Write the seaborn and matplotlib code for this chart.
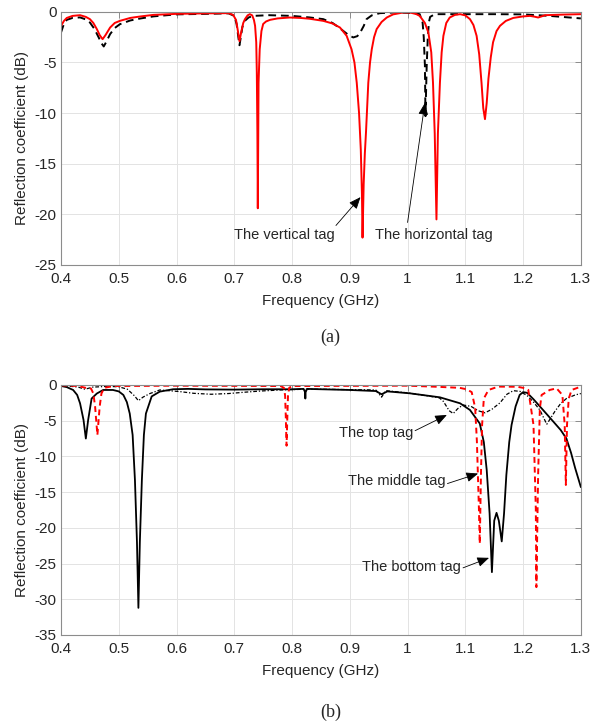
import matplotlib
matplotlib.use("Agg")
import matplotlib.pyplot as plt
import seaborn as sns
import pandas as pd

# ---------------- data: panel (a) ----------------
a_red_f = [0.400, 0.405, 0.410, 0.420, 0.433, 0.443, 0.450, 0.456, 0.462, 0.467, 0.472,
           0.477, 0.485, 0.493, 0.502, 0.520, 0.537, 0.560, 0.600, 0.650, 0.690, 0.698,
           0.703, 0.706, 0.709, 0.712, 0.7155, 0.7185, 0.723, 0.727, 0.731, 0.734, 0.736,
           0.738, 0.739, 0.740, 0.7407, 0.7415, 0.742, 0.744, 0.747, 0.750, 0.755, 0.762,
           0.775, 0.796, 0.814, 0.830, 0.854, 0.870, 0.883, 0.8945, 0.903, 0.908, 0.912,
           0.916, 0.919, 0.921, 0.922, 0.924, 0.926, 0.928, 0.932, 0.935, 0.938, 0.942,
           0.9465, 0.955, 0.964, 0.975, 0.993, 1.005, 1.015, 1.021, 1.030, 1.036, 1.041,
           1.044, 1.047, 1.050, 1.0525, 1.056, 1.059, 1.062, 1.067, 1.073, 1.082, 1.091,
           1.100, 1.108, 1.114, 1.1195, 1.124, 1.128, 1.131, 1.134, 1.137, 1.140, 1.144,
           1.148, 1.154, 1.160, 1.170, 1.183, 1.200, 1.212, 1.220, 1.226, 1.232, 1.238,
           1.270, 1.300]
a_red_v = [-1.4, -0.9, -0.6, -0.4, -0.33, -0.5, -0.72, -1.1, -1.7, -2.3, -2.7,
           -2.3, -1.55, -1.1, -0.89, -0.6, -0.46, -0.3, -0.2, -0.15, -0.13, -0.3,
           -0.8, -1.8, -2.9, -2.0, -1.1, -0.72, -0.35, -0.23, -0.35, -0.8, -1.38,
           -3.0, -6.0, -12.0, -19.4, -12.0, -7.0, -3.7, -1.9, -1.2, -0.95, -0.79,
           -0.65, -0.56, -0.6, -0.68, -0.89, -1.15, -1.55, -2.37, -3.7, -5.0, -7.0,
           -10.0, -13.6, -18.0, -22.3, -17.0, -14.0, -11.9, -7.0, -5.0, -3.7, -2.5,
           -1.7, -1.0, -0.56, -0.25, -0.06, -0.08, -0.22, -0.4, -1.1, -2.04, -4.0,
           -7.0, -12.0, -20.5, -12.0, -7.0, -4.0, -2.37, -1.1, -0.56, -0.3, -0.23,
           -0.35, -0.72, -1.3, -2.37, -4.2, -7.0, -9.5, -10.6, -9.0, -6.6, -4.5,
           -3.0, -1.9, -1.38, -0.9, -0.6, -0.45, -0.4, -0.48, -0.56, -0.45, -0.33,
           -0.27, -0.23]

a_blk_f = [0.400, 0.405, 0.410, 0.420, 0.433, 0.443, 0.450, 0.458, 0.465, 0.470, 0.474,
           0.479, 0.485, 0.493, 0.502, 0.520, 0.537, 0.560, 0.600, 0.650, 0.690, 0.700,
           0.704, 0.707, 0.709, 0.711, 0.714, 0.718, 0.725, 0.733, 0.760, 0.800, 0.830,
           0.854, 0.870, 0.880, 0.889, 0.898, 0.906, 0.913, 0.918, 0.924, 0.929, 0.938,
           0.952, 0.980, 1.010, 1.021, 1.026, 1.028, 1.030, 1.031, 1.033, 1.035, 1.037,
           1.039, 1.045, 1.050, 1.150, 1.200, 1.246, 1.300]
a_blk_v = [-2.04, -1.2, -0.79, -0.6, -0.55, -0.75, -1.05, -1.7, -2.5, -3.1, -3.42,
           -2.9, -2.2, -1.6, -1.22, -0.85, -0.66, -0.45, -0.25, -0.2, -0.15, -0.4,
           -1.2, -2.5, -3.3, -2.6, -1.5, -0.9, -0.55, -0.4, -0.33, -0.4, -0.55,
           -0.72, -1.1, -1.5, -1.9, -2.3, -2.53, -2.4, -2.04, -1.4, -0.72, -0.35,
           -0.13, -0.06, -0.12, -0.23, -1.05, -2.5, -5.3, -10.3, -5.5, -2.5, -1.0,
           -0.5, -0.3, -0.23, -0.23, -0.25, -0.4, -0.65]

# ---------------- data: panel (b) ----------------
b_solid_f = [0.400, 0.410, 0.421, 0.428, 0.433, 0.439, 0.443, 0.447, 0.453, 0.462, 0.473,
             0.490, 0.500, 0.508, 0.514, 0.519, 0.524, 0.528, 0.5315, 0.534, 0.5365, 0.540,
             0.5435, 0.547, 0.557, 0.571, 0.594, 0.620, 0.650, 0.700, 0.750, 0.800, 0.820,
             0.8225, 0.823, 0.8235, 0.826, 0.850, 0.900, 0.945, 0.955, 0.965, 1.004, 1.056,
             1.091, 1.108, 1.125, 1.132, 1.137, 1.142, 1.146, 1.150, 1.154, 1.158, 1.163,
             1.167, 1.171, 1.176, 1.180, 1.187, 1.194, 1.200, 1.207, 1.218, 1.229, 1.240,
             1.252, 1.265, 1.275, 1.283, 1.290, 1.300]
b_solid_v = [-0.14, -0.3, -0.7, -1.4, -2.57, -4.9, -7.5, -4.9, -1.9, -1.2, -0.7,
             -0.7, -0.9, -1.4, -2.4, -4.0, -7.0, -13.3, -22.0, -31.2, -22.0, -13.3,
             -7.0, -4.0, -1.6, -0.93, -0.6, -0.55, -0.62, -0.65, -0.6, -0.6, -0.55,
             -1.0, -1.9, -1.0, -0.55, -0.6, -0.7, -0.85, -1.3, -0.9, -1.17, -1.73,
             -2.57, -3.5, -5.4, -8.0, -11.9, -18.0, -26.2, -19.0, -17.9, -19.0, -21.9,
             -18.0, -12.6, -8.0, -5.6, -3.0, -1.4, -1.0, -1.1, -2.0, -3.0, -4.0,
             -5.1, -6.3, -7.5, -9.5, -11.6, -14.3]

b_red_f = [0.400, 0.430, 0.445, 0.452, 0.456, 0.459, 0.461, 0.463, 0.465, 0.467, 0.470,
           0.475, 0.490, 0.600, 0.780, 0.786, 0.788, 0.789, 0.7905, 0.792, 0.793, 0.795,
           0.800, 1.000, 1.050, 1.090, 1.102, 1.111, 1.117, 1.120, 1.1235, 1.125, 1.127,
           1.129, 1.132, 1.140, 1.157, 1.190, 1.200, 1.209, 1.218, 1.222, 1.223, 1.226,
           1.229, 1.232, 1.246, 1.258, 1.268, 1.272, 1.274, 1.276, 1.279, 1.284, 1.300]
b_red_v = [-0.05, -0.15, -0.45, -0.5, -1.2, -3.0, -5.0, -7.0, -5.0, -3.0, -1.2,
           -0.4, -0.15, -0.1, -0.15, -0.4, -1.5, -4.0, -8.5, -4.0, -1.5, -0.4,
           -0.15, -0.1, -0.25, -0.4, -0.6, -1.0, -3.2, -7.9, -17.3, -22.2, -12.6,
           -5.6, -1.9, -0.7, -0.23, -0.25, -0.4, -0.7, -5.6, -17.3, -28.3, -12.6,
           -3.3, -1.4, -0.7, -0.47, -1.4, -5.6, -14.0, -5.6, -1.9, -0.7, -0.23]

b_dd_f = [0.400, 0.430, 0.4415, 0.455, 0.480, 0.500, 0.515, 0.527, 0.534, 0.542, 0.554,
          0.571, 0.606, 0.630, 0.660, 0.690, 0.720, 0.745, 0.780, 0.820, 0.850, 0.900,
          0.945, 0.955, 0.962, 1.000, 1.040, 1.055, 1.062, 1.072, 1.079, 1.087, 1.096,
          1.110, 1.122, 1.134, 1.146, 1.160, 1.172, 1.183, 1.195, 1.207, 1.217, 1.229,
          1.241, 1.255, 1.265, 1.275, 1.290, 1.300]
b_dd_v = [-0.05, -0.3, -0.6, -0.3, -0.2, -0.25, -0.6, -1.5, -2.2, -1.7, -1.2,
          -0.7, -0.93, -1.17, -1.3, -1.2, -1.0, -0.85, -0.7, -0.6, -0.6, -0.65,
          -0.7, -1.7, -0.8, -1.1, -1.6, -1.8, -2.3, -3.6, -4.0, -3.3, -2.8,
          -3.0, -3.6, -3.9, -3.4, -2.5, -1.3, -0.8, -0.9, -1.5, -2.3, -3.5,
          -5.5, -3.7, -2.6, -1.9, -1.4, -1.2]

x_ticks = [0.4, 0.5, 0.6, 0.7, 0.8, 0.9, 1.0, 1.1, 1.2, 1.3]
x_tick_labels = ["0.4", "0.5", "0.6", "0.7", "0.8", "0.9", "1", "1.1", "1.2", "1.3"]
a_y_ticks = [0, -5, -10, -15, -20, -25]
b_y_ticks = [0, -5, -10, -15, -20, -25, -30, -35]

# ---------------- style ----------------
sns.set_theme(style="white")
plt.rcParams['font.family'] = ['Liberation Sans', 'DejaVu Sans']
plt.rcParams['axes.unicode_minus'] = False

fig = plt.figure(figsize=(6.01, 7.22), dpi=100)
ax_a = fig.add_axes([0.1015, 0.633, 0.865, 0.3506])
ax_b = fig.add_axes([0.1015, 0.1205, 0.865, 0.3463])


def style_axes(ax, yticks, ylim):
    ax.set_xlim(0.4, 1.3)
    ax.set_ylim(*ylim)
    ax.set_xticks(x_ticks)
    ax.set_xticklabels(x_tick_labels)
    ax.set_yticks(yticks)
    ax.set_yticklabels([str(t) for t in yticks])
    ax.grid(True, color="#e3e3e3", linewidth=0.7)
    ax.set_axisbelow(True)
    for s in ax.spines.values():
        s.set_color("#8c8c8c")
        s.set_linewidth(0.8)
        s.set_visible(True)
    ax.tick_params(axis="both", direction="in", length=4, width=0.7, color="#8c8c8c",
                   labelsize=11, labelcolor="#262626", top=True, right=True,
                   labeltop=False, labelright=False)
    ax.tick_params(axis="x", pad=5.2)
    ax.tick_params(axis="y", pad=3)
    ax.set_xlabel("Frequency (GHz)", fontsize=11, color="#262626", labelpad=5.5)
    ax.set_ylabel("Reflection coefficient (dB)", fontsize=11, color="#262626")
    ax.yaxis.set_label_coords(-0.0615, 0.5)


# panel (a)
df_a_red = pd.DataFrame({"f": a_red_f, "v": a_red_v})
df_a_blk = pd.DataFrame({"f": a_blk_f, "v": a_blk_v})
sns.lineplot(data=df_a_blk, x="f", y="v", ax=ax_a, color="black", linewidth=1.4,
             linestyle=(0, (4, 2.5)), estimator=None, sort=False)
sns.lineplot(data=df_a_red, x="f", y="v", ax=ax_a, color="#ff0000", linewidth=1.4,
             estimator=None, sort=False)
style_axes(ax_a, a_y_ticks, (-25, 0))

arrow_kw = dict(arrowstyle="-|>,head_length=0.6,head_width=0.25", color="black",
                lw=0.6, shrinkA=0, shrinkB=0)
ax_a.text(0.6995, -22.0, "The vertical tag", fontsize=10.5, ha="left", va="center")
ax_a.annotate("", xy=(0.9185, -18.3), xytext=(0.876, -21.1), arrowprops=arrow_kw)
ax_a.text(0.9435, -22.0, "The horizontal tag", fontsize=10.5, ha="left", va="center")
ax_a.annotate("", xy=(1.030, -9.0), xytext=(1.000, -20.8), arrowprops=arrow_kw)

# panel (b)
df_b_solid = pd.DataFrame({"f": b_solid_f, "v": b_solid_v})
df_b_red = pd.DataFrame({"f": b_red_f, "v": b_red_v})
df_b_dd = pd.DataFrame({"f": b_dd_f, "v": b_dd_v})
sns.lineplot(data=df_b_dd, x="f", y="v", ax=ax_b, color="black", linewidth=0.9,
             linestyle=(0, (3, 1.5, 1, 1.5)), estimator=None, sort=False)
sns.lineplot(data=df_b_solid, x="f", y="v", ax=ax_b, color="black", linewidth=1.3,
             estimator=None, sort=False)
sns.lineplot(data=df_b_red, x="f", y="v", ax=ax_b, color="#ff0000", linewidth=1.4,
             linestyle=(0, (3, 2)), estimator=None, sort=False)
style_axes(ax_b, b_y_ticks, (-35, 0))

ax_b.text(0.882, -6.68, "The top tag", fontsize=10.5, ha="left", va="center")
ax_b.annotate("", xy=(1.068, -4.2), xytext=(1.013, -6.4), arrowprops=arrow_kw)
ax_b.text(0.897, -13.5, "The middle tag", fontsize=10.5, ha="left", va="center")
ax_b.annotate("", xy=(1.122, -12.4), xytext=(1.069, -13.8), arrowprops=arrow_kw)
ax_b.text(0.921, -25.5, "The bottom tag", fontsize=10.5, ha="left", va="center")
ax_b.annotate("", xy=(1.141, -24.2), xytext=(1.096, -25.6), arrowprops=arrow_kw)

fig.text(0.55, 1 - 337 / 722, "(a)", fontsize=13, family="Liberation Serif",
         ha="center", va="center")
fig.text(0.55, 1 - 712 / 722, "(b)", fontsize=13, family="Liberation Serif",
         ha="center", va="center")

fig.savefig("out.png", dpi=100, facecolor="white")
